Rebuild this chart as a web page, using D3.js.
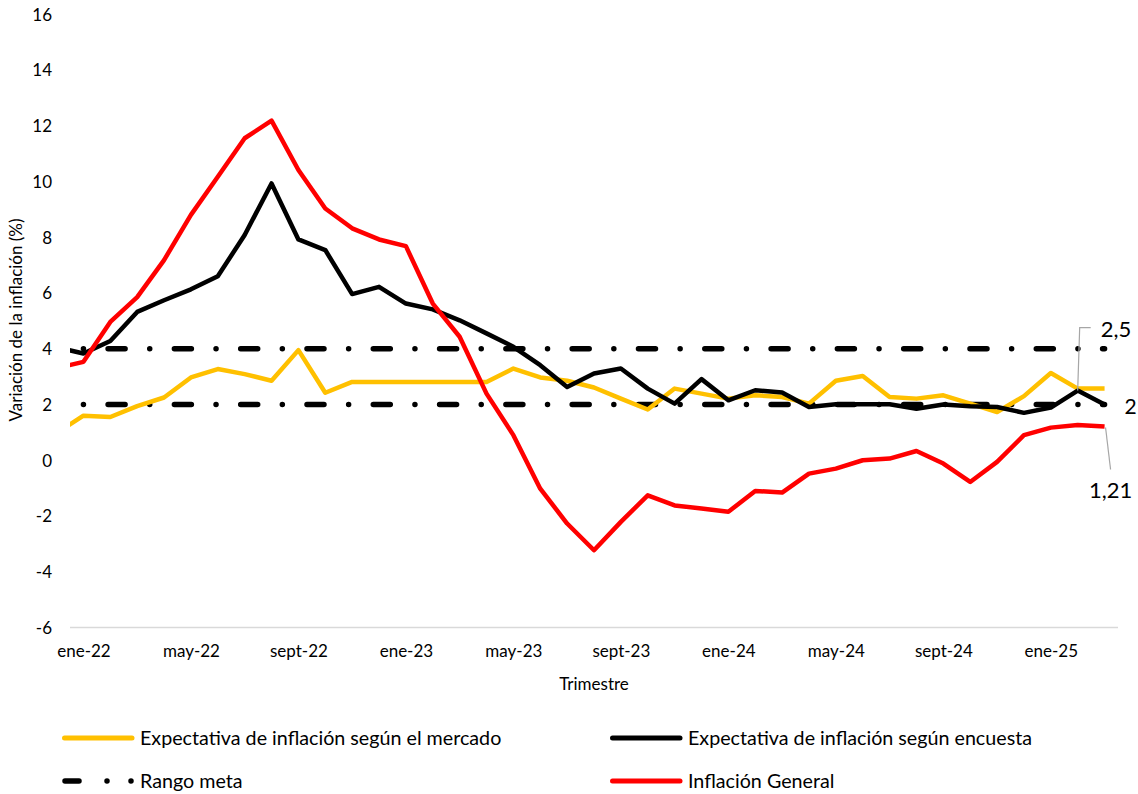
<!DOCTYPE html>
<html>
<head>
<meta charset="utf-8">
<script src="https://cdn.jsdelivr.net/npm/d3@7"></script>
<style>
  html, body { margin: 0; padding: 0; background: #fff; }
  svg text { font-family: Lato, "Open Sans", sans-serif; fill: #000; }
</style>
</head>
<body>
<svg id="chart" width="1138" height="794"></svg>
<script>
// ---- Data (monthly, dic-21 .. mar-25) ----
const months = ["dic-21",
  "ene-22","feb-22","mar-22","abr-22","may-22","jun-22","jul-22","ago-22","sept-22","oct-22","nov-22","dic-22",
  "ene-23","feb-23","mar-23","abr-23","may-23","jun-23","jul-23","ago-23","sept-23","oct-23","nov-23","dic-23",
  "ene-24","feb-24","mar-24","abr-24","may-24","jun-24","jul-24","ago-24","sept-24","oct-24","nov-24","dic-24",
  "ene-25","feb-25","mar-25"];

const tickLabels = ["ene-22","may-22","sept-22","ene-23","may-23","sept-23","ene-24","may-24","sept-24","ene-25"];

const yTicks = [-6,-4,-2,0,2,4,6,8,10,12,14,16];

const expMercado = [0.97, 1.60, 1.55, 1.94, 2.25, 2.97, 3.27, 3.09, 2.85, 3.95, 2.42, 2.81, 2.81,
  2.81, 2.81, 2.81, 2.81, 3.29, 2.97, 2.85, 2.61, 2.21, 1.82, 2.57, 2.39,
  2.21, 2.33, 2.27, 2.03, 2.85, 3.02, 2.27, 2.21, 2.33, 2.03, 1.73, 2.30,
  3.13, 2.57, 2.57];

const expEncuesta = [4.05, 3.83, 4.28, 5.32, 5.74, 6.13, 6.60, 8.08, 9.93, 7.92, 7.54, 5.96, 6.22,
  5.62, 5.41, 5.02, 4.55, 4.07, 3.41, 2.63, 3.11, 3.29, 2.57, 2.03, 2.91,
  2.15, 2.51, 2.43, 1.91, 2.01, 2.01, 2.01, 1.85, 2.00, 1.94, 1.91, 1.70,
  1.89, 2.50, 2.00];

const inflacion = [3.30, 3.53, 4.96, 5.85, 7.18, 8.80, 10.17, 11.55, 12.18, 10.41, 9.03, 8.32, 7.92,
  7.68, 5.62, 4.43, 2.39, 0.90, -1.02, -2.27, -3.23, -2.21, -1.26, -1.62, -1.73,
  -1.85, -1.10, -1.16, -0.48, -0.30, 0.00, 0.06, 0.33, -0.12, -0.78, -0.06, 0.90,
  1.17, 1.26, 1.21];

const rangoSup = [null, 4,4,4,4,4,4,4,4,4,4,4,4, 4,4,4,4,4,4,4,4,4,4,4,4, 4,4,4,4,4,4,4,4,4,4,4,4, 4,4,4];
const rangoInf = [null, 2,2,2,2,2,2,2,2,2,2,2,2, 2,2,2,2,2,2,2,2,2,2,2,2, 2,2,2,2,2,2,2,2,2,2,2,2, 2,2,2];

const labelsData = [
  {series: "encuesta", month: "feb-25", text: "2,5"},
  {series: "encuesta", month: "mar-25", text: "2"},
  {series: "inflacion", month: "mar-25", text: "1,21"}
];

// ---- Layout ----
const svg = d3.select("#chart");
const plot = {left: 70, right: 1118, top: 14.2, bottom: 627.5};

// index relative to ene-22 (dic-21 = -1)
const idx = m => months.indexOf(m) - 1;

const x = d3.scaleLinear().domain([-0.5, months.length - 1.5]).range([plot.left, plot.right]);
const y = d3.scaleLinear().domain([-6, 16]).range([plot.bottom, plot.top]);

svg.append("defs").append("clipPath").attr("id", "plotClip")
  .append("rect").attr("x", plot.left).attr("y", 0)
  .attr("width", plot.right - plot.left).attr("height", 794);

// bottom axis line
svg.append("line")
  .attr("x1", plot.left).attr("x2", plot.right)
  .attr("y1", y(-6)).attr("y2", y(-6))
  .attr("stroke", "#d9d9d9").attr("stroke-width", 1.5);

// y axis
const yAxis = d3.axisLeft(y).tickValues(yTicks).tickSize(0).tickPadding(0)
  .tickFormat(d => d3.format("d")(d).replace("−", "-"));
const gy = svg.append("g").attr("transform", `translate(${52},0)`).call(yAxis);
gy.select(".domain").remove();
gy.selectAll("text").style("font-size", "17px").style("font-family", "Lato").attr("fill", "#000")
  .attr("dy", "0.35em");

// x axis
const xAxis = d3.axisBottom(x)
  .tickValues(tickLabels.map(idx))
  .tickFormat(i => months[i + 1])
  .tickSize(0).tickPadding(0);
const gx = svg.append("g").attr("transform", `translate(0,${651})`).call(xAxis);
gx.select(".domain").remove();
gx.selectAll("text").style("font-size", "17px").style("font-family", "Lato").attr("fill", "#000")
  .attr("dy", "0.35em").attr("y", 0);

// axis titles
svg.append("text").attr("x", 594).attr("y", 684).attr("text-anchor", "middle")
  .attr("dy", "0.35em").style("font-size", "17px").text("Trimestre");
svg.append("text").attr("transform", "translate(16,320) rotate(-90)")
  .attr("text-anchor", "middle").attr("dy", "0.35em").style("font-size", "17px")
  .text("Variación de la inflación (%)");

// lines
const lineGen = d3.line()
  .defined(d => d.v !== null)
  .x(d => x(d.i)).y(d => y(d.v));
const toPts = arr => arr.map((v, k) => ({i: k - 1, v}));

const plotG = svg.append("g").attr("clip-path", "url(#plotClip)");

const dashPattern = "0,24.65,17,24.65";
[rangoSup, rangoInf].forEach(arr => {
  plotG.append("path").datum(toPts(arr)).attr("d", lineGen)
    .attr("fill", "none").attr("stroke", "#000").attr("stroke-width", 5.5)
    .attr("stroke-linecap", "round").attr("stroke-dasharray", dashPattern);
});

const series = [
  {key: "mercado", data: expMercado, color: "#FFC000"},
  {key: "encuesta", data: expEncuesta, color: "#000000"},
  {key: "inflacion", data: inflacion, color: "#FF0000"}
];
series.forEach(s => {
  plotG.append("path").datum(toPts(s.data)).attr("d", lineGen)
    .attr("fill", "none").attr("stroke", s.color).attr("stroke-width", 4.5)
    .attr("stroke-linejoin", "round").attr("stroke-linecap", "butt");
});

// data labels with leader lines
const getVal = (key, m) => {
  const s = series.find(d => d.key === key);
  return s.data[months.indexOf(m)];
};
const lab1 = labelsData[0], lab2 = labelsData[1], lab3 = labelsData[2];
{
  const px = x(idx(lab1.month)), py = y(getVal(lab1.series, lab1.month));
  svg.append("polyline")
    .attr("points", `${px},${py} ${px + 2},${py - 63} ${px + 13},${py - 63}`)
    .attr("fill", "none").attr("stroke", "#a6a6a6").attr("stroke-width", 1.2);
  svg.append("text").attr("x", px + 23).attr("y", py - 61).attr("dy", "0.35em")
    .style("font-size", "22px").text(lab1.text);
}
{
  const px = x(idx(lab2.month)), py = y(getVal(lab2.series, lab2.month));
  svg.append("text").attr("x", px + 20).attr("y", py + 2).attr("dy", "0.35em")
    .style("font-size", "21px").text(lab2.text);
}
{
  const px = x(idx(lab3.month)), py = y(getVal(lab3.series, lab3.month));
  svg.append("line").attr("x1", px + 1).attr("y1", py + 1).attr("x2", px + 6).attr("y2", py + 43)
    .attr("stroke", "#a6a6a6").attr("stroke-width", 1.2);
  svg.append("text").attr("x", px + 6).attr("y", py + 64).attr("dy", "0.35em")
    .attr("text-anchor", "middle").style("font-size", "22px").text(lab3.text);
}

// legend
const legendItems = [
  {label: "Expectativa de inflación según el mercado", color: "#FFC000", type: "solid", x: 62, y: 738, tx: 140},
  {label: "Expectativa de inflación según encuesta", color: "#000000", type: "solid", x: 610, y: 738, tx: 688},
  {label: "Rango meta", color: "#000000", type: "dash", x: 62, y: 781, tx: 140},
  {label: "Inflación General", color: "#FF0000", type: "solid", x: 610, y: 781, tx: 688}
];
const lg = svg.append("g");
legendItems.forEach(it => {
  if (it.type === "solid") {
    lg.append("line").attr("x1", it.x + 2.5).attr("x2", it.x + 70).attr("y1", it.y).attr("y2", it.y)
      .attr("stroke", it.color).attr("stroke-width", 5).attr("stroke-linecap", "round");
  } else {
    lg.append("line").attr("x1", it.x + 3).attr("x2", it.x + 72).attr("y1", it.y).attr("y2", it.y)
      .attr("stroke", it.color).attr("stroke-width", 5.5).attr("stroke-linecap", "round")
      .attr("stroke-dasharray", "14,28,0,24,0,100");
  }
  lg.append("text").attr("x", it.tx).attr("y", it.y).attr("dy", "0.35em")
    .style("font-size", "19.7px").text(it.label);
});
</script>
</body>
</html>
